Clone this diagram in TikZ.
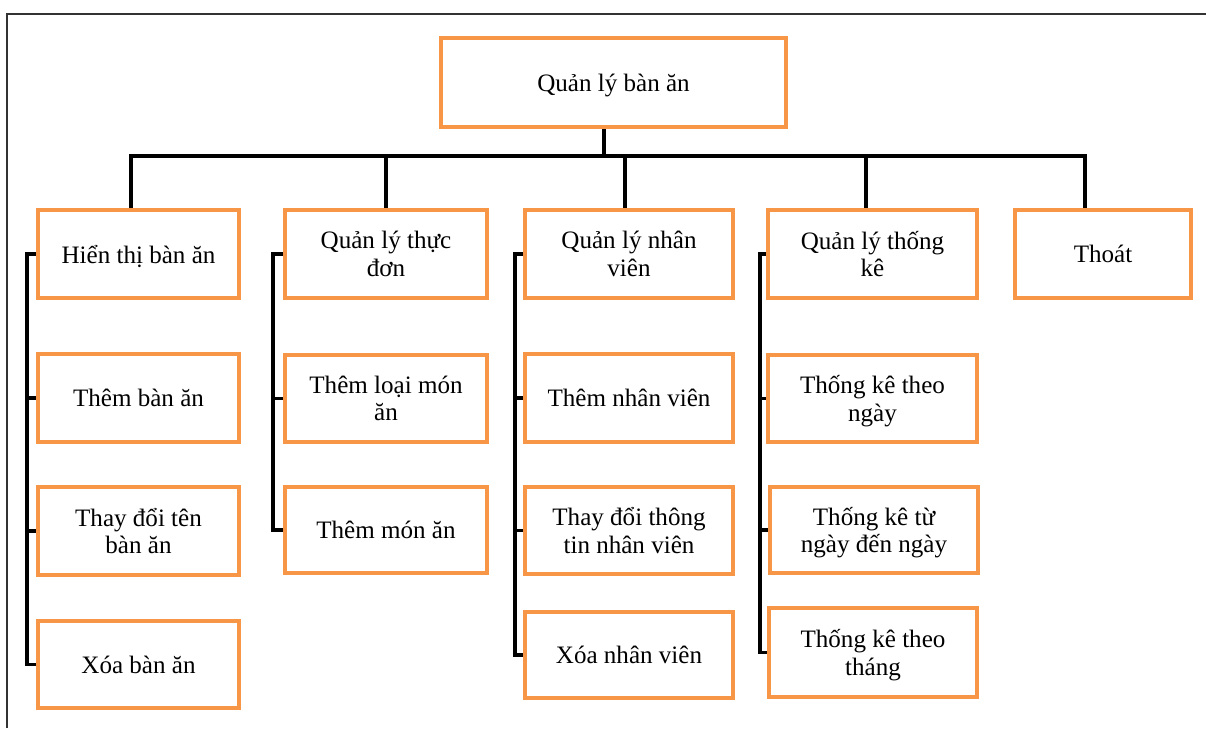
\documentclass[tikz,border=0pt]{standalone}
\usepackage{fontspec}
\setmainfont{Liberation Serif}
\usetikzlibrary{backgrounds}
\definecolor{boxorange}{HTML}{F79646}
\begin{document}
\begin{tikzpicture}[x=0.75pt,y=-0.75pt,
  box/.style={draw=boxorange, line width=2.3pt, fill=white, align=center,
    inner sep=0pt, text depth=0pt, font=\fontsize{18.8pt}{20.6pt}\selectfont},
  sz/.style 2 args={minimum width=#1*0.75pt, minimum height=#2*0.75pt},
  link/.style={line width=2.6pt}]
\useasboundingbox (0,0) rectangle (1206,728);

% root and first level
\node[box, sz={345}{89}] (root) at (613.5,82.5) {Quản lý bàn ăn};
\node[box, sz={201}{88}] (a) at (138.5,254) {Hiển thị bàn ăn};
\node[box, sz={202}{88}] (b) at (386,254) {Quản lý thực\\đơn};
\node[box, sz={208}{88}] (c) at (629,254) {Quản lý nhân\\viên};
\node[box, sz={209}{88}] (d) at (872.5,254) {Quản lý thống\\kê};
\node[box, sz={176}{88}] (e) at (1103,254) {Thoát};

% second level
\node[box, sz={201}{88}] (a1) at (138.5,398) {Thêm bàn ăn};
\node[box, sz={201}{88}] (a2) at (138.5,531) {Thay đổi tên\\bàn ăn};
\node[box, sz={201}{87}] (a3) at (138.5,664.5) {Xóa bàn ăn};

\node[box, sz={202}{87}] (b1) at (386,398.5) {Thêm loại món\\ăn};
\node[box, sz={202}{86}] (b2) at (386,530) {Thêm món ăn};

\node[box, sz={208}{88}] (c1) at (629,398) {Thêm nhân viên};
\node[box, sz={208}{87}] (c2) at (629,530.5) {Thay đổi thông\\tin nhân viên};
\node[box, sz={208}{86}] (c3) at (629,655) {Xóa nhân viên};

\node[box, sz={209}{87}] (d1) at (872.5,398.5) {Thống kê theo\\ngày};
\node[box, sz={208}{86}] (d2) at (874,530) {Thống kê từ\\ngày đến ngày};
\node[box, sz={208}{89}] (d3) at (873,652.5) {Thống kê theo\\tháng};

% bus and column rails
\coordinate (top) at (604,156);
\coordinate (busA) at (131,156);
\coordinate (busB) at (386,156);
\coordinate (busC) at (625,156);
\coordinate (busD) at (866,156);
\coordinate (busE) at (1085,156);
\coordinate (ra) at (27,0);
\coordinate (rb) at (273,0);
\coordinate (rc) at (515,0);
\coordinate (rd) at (760,0);

\begin{scope}[on background layer]
  % page frame
  \draw[line width=1.1pt, black!80] (7,728) -- (7,14) -- (1206,14);

  \draw[link] (root.south -| top) -- (top);
  \draw[link] (a.north -| busA) -- (busA) -- (busE) -- (busE |- e.north);
  \draw[link] (busB) -- (busB |- b.north);
  \draw[link] (busC) -- (busC |- c.north);
  \draw[link] (busD) -- (busD |- d.north);

  \draw[link] (a.west) -- (a.west -| ra) -- (ra |- a3.west) -- (a3.west);
  \draw[link] (ra |- a1.west) -- (a1.west);
  \draw[link] (ra |- a2.west) -- (a2.west);

  \draw[link] (b.west) -- (b.west -| rb) -- (rb |- b2.west) -- (b2.west);
  \draw[link] (rb |- b1.west) -- (b1.west);

  \draw[link] (c.west) -- (c.west -| rc) -- (rc |- c3.west) -- (c3.west);
  \draw[link] (rc |- c1.west) -- (c1.west);
  \draw[link] (rc |- c2.west) -- (c2.west);

  \draw[link] (d.west) -- (d.west -| rd) -- (rd |- d3.west) -- (d3.west);
  \draw[link] (rd |- d1.west) -- (d1.west);
  \draw[link] (rd |- d2.west) -- (d2.west);
\end{scope}
\end{tikzpicture}
\end{document}
